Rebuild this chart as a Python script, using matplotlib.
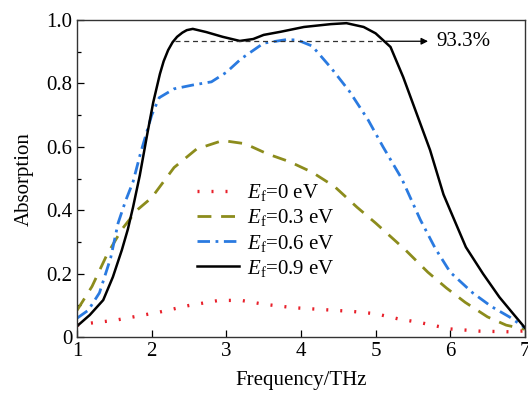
import numpy as np
import matplotlib
matplotlib.use('Agg')
import matplotlib.pyplot as plt
from matplotlib.ticker import MultipleLocator, FuncFormatter

plt.rcParams['font.family'] = 'Liberation Serif'
plt.rcParams['mathtext.fontset'] = 'custom'
plt.rcParams['mathtext.rm'] = 'Liberation Serif'
plt.rcParams['mathtext.it'] = 'Liberation Serif:italic'

# Ef = 0 eV
f0 = [1.0, 1.2, 1.5, 1.8, 2.1, 2.5, 2.9, 3.2, 3.5, 3.9, 4.3, 4.7, 5.0, 5.3, 5.6, 6.0, 6.4, 6.8, 7.0]
a0 = [0.038, 0.045, 0.053, 0.066, 0.079, 0.100, 0.116, 0.116, 0.104, 0.093, 0.087, 0.081,
      0.074, 0.058, 0.046, 0.026, 0.019, 0.017, 0.020]

# Ef = 0.3 eV
f3 = [1.0, 1.2, 1.4, 1.6, 1.8, 2.0, 2.3, 2.6, 2.95, 3.25, 3.55, 3.85, 4.15, 4.45, 4.75,
      5.0, 5.4, 5.7, 5.95, 6.2, 6.5, 6.75, 7.0]
a3 = [0.085, 0.16, 0.26, 0.34, 0.40, 0.44, 0.535, 0.593, 0.620, 0.610, 0.578, 0.553, 0.520,
      0.475, 0.410, 0.360, 0.275, 0.205, 0.155, 0.110, 0.064, 0.038, 0.025]

# Ef = 0.6 eV
f6 = [1.0, 1.15, 1.3, 1.45, 1.55, 1.65, 1.75, 1.85, 2.0, 2.1, 2.3, 2.55, 2.8, 3.0, 3.2, 3.5,
      3.8, 3.95, 4.15, 4.4, 4.65, 4.9, 5.1, 5.35, 5.6, 5.8, 6.0, 6.3, 6.55, 6.8, 7.0]
a6 = [0.060, 0.085, 0.140, 0.250, 0.360, 0.430, 0.490, 0.580, 0.700, 0.755, 0.783, 0.795,
      0.805, 0.835, 0.878, 0.927, 0.938, 0.937, 0.918, 0.850, 0.775, 0.685, 0.600, 0.500,
      0.370, 0.280, 0.205, 0.140, 0.097, 0.063, 0.030]

# Ef = 0.9 eV
f9 = [1.0, 1.17, 1.35, 1.48, 1.6, 1.68, 1.75, 1.84, 1.94, 2.02, 2.07, 2.11, 2.16, 2.22, 2.28,
      2.34, 2.41, 2.47, 2.55, 2.73, 2.95, 3.18, 3.36, 3.5, 3.73, 4.04, 4.4, 4.61, 4.84, 5.0,
      5.2, 5.37, 5.55, 5.73, 5.91, 6.0, 6.21, 6.44, 6.66, 6.84, 7.0]
a9 = [0.035, 0.070, 0.117, 0.190, 0.275, 0.340, 0.410, 0.510, 0.640, 0.740, 0.790, 0.830,
      0.870, 0.905, 0.930, 0.947, 0.960, 0.968, 0.972, 0.962, 0.947, 0.934, 0.940, 0.953,
      0.963, 0.978, 0.987, 0.990, 0.978, 0.958, 0.915, 0.820, 0.705, 0.590, 0.450, 0.400,
      0.284, 0.200, 0.126, 0.075, 0.030]

labels = [r'$E_{\rm f}$=0 eV', r'$E_{\rm f}$=0.3 eV', r'$E_{\rm f}$=0.6 eV', r'$E_{\rm f}$=0.9 eV']
level = 0.933
fs = 15

fig = plt.figure(figsize=(5.28, 4.0), dpi=100)
ax = fig.add_axes([0.146, 0.157, 0.848, 0.793])

ax.plot(f0, a0, color='#e8202a', lw=2.4, dashes=(0.6, 3.6), dash_capstyle='butt', label=labels[0])
ax.plot(f3, a3, color='#8c8c1c', lw=2.0, dashes=(5, 3.5), label=labels[1])
ax.plot(f6, a6, color='#2a7ae0', lw=2.0, dashes=(4.5, 2, 1, 2), label=labels[2])
ax.plot(f9, a9, color='black', lw=1.8, label=labels[3])

ax.plot([2.31, 5.12], [level, level], color='#333333', lw=0.9, dashes=(4, 3))
ax.annotate('', xy=(5.74, level), xytext=(5.1, level),
            arrowprops=dict(arrowstyle='-|>', color='black', lw=0.9, mutation_scale=10))
ax.text(5.82, level, '93.3%', fontsize=fs, va='center', ha='left')

ax.set_xlim(1, 7)
ax.set_ylim(0, 1.0)
ax.xaxis.set_major_locator(MultipleLocator(1))
ax.yaxis.set_major_locator(MultipleLocator(0.2))
ax.yaxis.set_minor_locator(MultipleLocator(0.1))
ax.yaxis.set_major_formatter(FuncFormatter(lambda v, p: '0' if abs(v) < 1e-9 else '%.1f' % v))
ax.tick_params(direction='in', labelsize=fs, length=5, width=0.9)
ax.tick_params(which='minor', direction='in', length=3, width=0.9)
for s in ax.spines.values():
    s.set_color('#333333')
    s.set_linewidth(1.0)

ax.set_xlabel('Frequency/THz', fontsize=fs, labelpad=7)
ax.set_ylabel('Absorption', fontsize=fs, labelpad=9)

ax.legend(loc='upper left', bbox_to_anchor=(0.25, 0.515), frameon=False, fontsize=fs,
          handlelength=2.0, handletextpad=0.4, labelspacing=0.2, borderaxespad=0)

fig.savefig('out.png', dpi=100)
